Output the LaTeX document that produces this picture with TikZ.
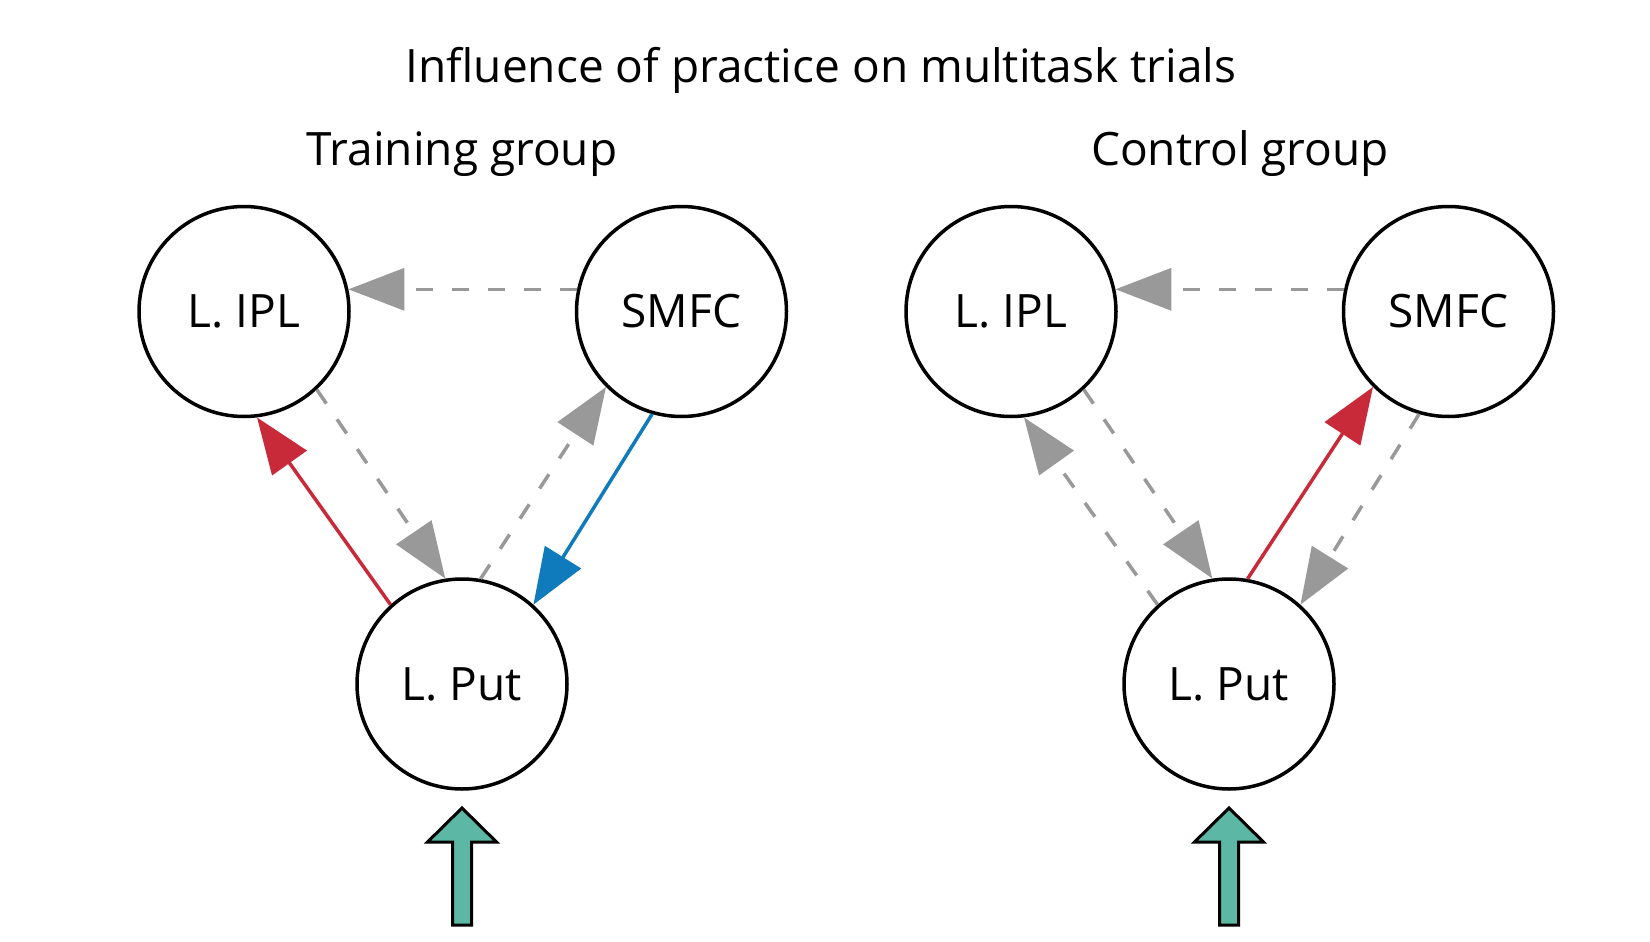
\documentclass[tikz,border=0pt]{standalone}
\usepackage{fontspec}
\setmainfont{Open Sans}
\usetikzlibrary{arrows.meta,positioning}
\definecolor{upred}{RGB}{200,42,57}
\definecolor{downblue}{RGB}{16,123,188}
\definecolor{nochange}{RGB}{153,153,153}
\definecolor{inputteal}{RGB}{92,184,165}

\begin{document}
\begin{tikzpicture}[x=0.5pt,y=-0.5pt,on grid,
  region/.style={circle,draw,line width=1.75pt,minimum size=105pt,inner sep=0pt,
    font=\fontsize{23}{28}\selectfont},
  label/.style={anchor=base,font=\fontsize{23}{28}\selectfont},
  link/.style={line width=1.75pt,-{Triangle[length=28pt,width=21pt]}},
  flat/.style={link,draw=nochange,dash pattern=on 8.5pt off 9.5pt},
  raised/.style={link,draw=upred},
  lowered/.style={link,draw=downblue},
  inarrow/.style={draw,line width=1.5pt,fill=inputteal,line join=miter}]
 \useasboundingbox (0,0) rectangle (1650,942);

 \node[label] (title) at (821,82) {Influence of practice on multitask trials};
 \node[label] (tgroup) at (462,165) {Training group};
 \node[label] (cgroup) at (1240,165) {Control group};

 % training group
 \node[region] (tipl) at (244,311.5) {L. IPL\hspace{4pt}};
 \node[region] (tsmfc) [right=218.75pt of tipl] {SMFC};
 \node[region] (tput) [below right=186.25pt and 109pt of tipl] {L. Put\hspace{2pt}};
 \path
 (tsmfc.168) edge[flat] (tipl.12)
 (tipl.-47) edge[flat] (tput.99)
 (tput.132) edge[raised] (tipl.-83)
 (tput.80) edge[flat] (tsmfc.-135)
 (tsmfc.-106) edge[lowered] (tput.48);
 \coordinate[below=62pt of tput] (tin);
 \draw[inarrow] (tin) -- ++(17.25pt,-17pt) -- ++(-12.5pt,0pt) -- ++(0pt,-41.5pt)
   -- ++(-9.5pt,0pt) -- ++(0pt,41.5pt) -- ++(-12.5pt,0pt) -- cycle;

 % control group
 \node[region] (cipl) at (1011,311.5) {L. IPL\hspace{4pt}};
 \node[region] (csmfc) [right=218.75pt of cipl] {SMFC};
 \node[region] (cput) [below right=186.25pt and 109pt of cipl] {L. Put\hspace{2pt}};
 \path
 (csmfc.168) edge[flat] (cipl.12)
 (cipl.-47) edge[flat] (cput.99)
 (cput.132) edge[flat] (cipl.-83)
 (cput.80) edge[raised] (csmfc.-135)
 (csmfc.-106) edge[flat] (cput.48);
 \coordinate[below=62pt of cput] (cin);
 \draw[inarrow] (cin) -- ++(17.25pt,-17pt) -- ++(-12.5pt,0pt) -- ++(0pt,-41.5pt)
   -- ++(-9.5pt,0pt) -- ++(0pt,41.5pt) -- ++(-12.5pt,0pt) -- cycle;
\end{tikzpicture}
\end{document}
